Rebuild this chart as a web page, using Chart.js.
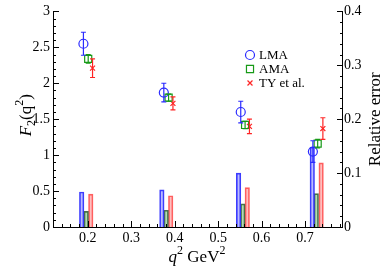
<!DOCTYPE html>
<html>
<head>
<meta charset="utf-8">
<script src="https://cdn.jsdelivr.net/npm/chart.js@4.4.1/dist/chart.umd.min.js"></script>
<style>
  html, body { margin: 0; padding: 0; background: #fff; }
  #wrap { width: 382px; height: 269px; }
</style>
</head>
<body>
<div id="wrap"><canvas id="f2-chart"></canvas></div>
<script>
// q^2 positions of the markers (GeV^2)
const q2LMA = [0.190, 0.375, 0.552, 0.718];
const q2AMA = [0.201, 0.386, 0.562, 0.729];
const q2TY = [0.211, 0.396, 0.572, 0.741];

// F2(q^2) values and errors
const f2LMA = [2.55, 1.87, 1.60, 1.05];
const errLMA = [0.16, 0.13, 0.15, 0.15];
const f2AMA = [2.34, 1.80, 1.42, 1.16];
const errAMA = [0.06, 0.05, 0.05, 0.06];
const f2TY = [2.21, 1.72, 1.40, 1.37];
const errTY = [0.13, 0.09, 0.10, 0.15];

// relative error bars (right axis) and their positions
const barQ2LMA = [0.186, 0.3705, 0.547, 0.7166];
const barQ2AMA = [0.1965, 0.3805, 0.5567, 0.7258];
const barQ2TY = [0.2069, 0.3908, 0.567, 0.737];
const relLMA = [0.065, 0.069, 0.100, 0.148];
const relAMA = [0.029, 0.031, 0.043, 0.062];
const relTY = [0.061, 0.058, 0.073, 0.119];

// tick labels
const xTicks = [0.2, 0.3, 0.4, 0.5, 0.6, 0.7];
const seriesNames = ['LMA', 'AMA', 'TY et al.'];

const colors = {
    lma: '#2b2bff',
    ama: '#179a17',
    ty: '#ff2424',
};

const serif = "'Liberation Serif', serif";
Chart.defaults.font.family = serif;
const toXY = (xs, ys) => xs.map((x, i) => ({ x, y: ys[i] }));
const fmt = (v) => String(+Number(v).toFixed(2));

const errorSets = [
    { xs: q2LMA, ys: f2LMA, errs: errLMA, color: colors.lma },
    { xs: q2AMA, ys: f2AMA, errs: errAMA, color: colors.ama },
    { xs: q2TY, ys: f2TY, errs: errTY, color: colors.ty },
];

const markerStyles = [
    { pointStyle: 'circle', radius: 4.5, color: colors.lma },
    { pointStyle: 'rect', radius: 5, color: colors.ama },
    { pointStyle: 'crossRot', radius: 3.5, color: colors.ty },
];

const barDataset = (xs, ys, fill, border) => ({
    type: 'bar',
    data: toXY(xs, ys),
    yAxisID: 'y2',
    backgroundColor: fill,
    borderColor: border,
    borderWidth: 1,
    barThickness: 4.5,
    grouped: false,
    order: 3,
});

const pointDataset = (xs, ys, style) => ({
    type: 'scatter',
    data: toXY(xs, ys),
    yAxisID: 'y',
    pointStyle: style.pointStyle,
    pointRadius: style.radius,
    pointBorderColor: style.color,
    pointBackgroundColor: 'rgba(0,0,0,0)',
    pointBorderWidth: 1.2,
    showLine: false,
    order: 1,
});

// draw frame, inside ticks, error bars, legend and axis titles
const decorations = {
    id: 'decorations',
    afterDatasetsDraw(chart) {
        const { ctx, scales } = chart;
        const x = scales.x, y = scales.y;
        ctx.save();

        // error bars
        errorSets.forEach((set) => {
            ctx.strokeStyle = set.color;
            ctx.lineWidth = 1.2;
            set.xs.forEach((q, i) => {
                const px = x.getPixelForValue(q);
                const top = y.getPixelForValue(set.ys[i] + set.errs[i]);
                const bot = y.getPixelForValue(set.ys[i] - set.errs[i]);
                ctx.beginPath();
                ctx.moveTo(px, top); ctx.lineTo(px, bot);
                ctx.moveTo(px - 2.5, top); ctx.lineTo(px + 2.5, top);
                ctx.moveTo(px - 2.5, bot); ctx.lineTo(px + 2.5, bot);
                ctx.stroke();
            });
        });
        ctx.restore();
    },
    afterDraw(chart) {
        const { ctx, chartArea: area, scales } = chart;
        const x = scales.x, y = scales.y, y2 = scales.y2;
        ctx.save();
        ctx.strokeStyle = '#000';
        ctx.lineWidth = 1;

        // axis lines
        ctx.beginPath();
        ctx.moveTo(area.left + 0.5, area.top);
        ctx.lineTo(area.left + 0.5, area.bottom + 0.5);
        ctx.lineTo(area.right + 0.5, area.bottom + 0.5);
        ctx.lineTo(area.right + 0.5, area.top);
        ctx.stroke();

        // ticks pointing inside
        ctx.beginPath();
        for (let k = 0; k <= 30; k++) {
            const py = Math.round(y.getPixelForValue(k / 10)) + 0.5;
            const len = k % 5 === 0 ? 6 : 3;
            ctx.moveTo(area.left, py); ctx.lineTo(area.left + len, py);
        }
        for (let k = 0; k <= 20; k++) {
            const py = Math.round(y2.getPixelForValue(k * 0.02)) + 0.5;
            const len = k % 5 === 0 ? 6 : 3;
            ctx.moveTo(area.right + 1, py); ctx.lineTo(area.right + 1 - len, py);
        }
        for (let k = 7; k <= 39; k++) {
            const v = k * 0.02;
            const px = Math.round(x.getPixelForValue(v)) + 0.5;
            if (px < area.left || px > area.right) continue;
            const len = k % 5 === 0 ? 6 : 3;
            ctx.moveTo(px, area.bottom); ctx.lineTo(px, area.bottom - len);
        }
        ctx.stroke();

        // legend
        ctx.font = '13px ' + serif;
        ctx.textBaseline = 'middle';
        ctx.textAlign = 'left';
        seriesNames.forEach((name, i) => {
            const ly = 55 + i * 14;
            const st = markerStyles[i];
            ctx.strokeStyle = st.color;
            ctx.fillStyle = 'rgba(0,0,0,0)';
            ctx.lineWidth = 1.2;
            Chart.helpers.drawPoint(ctx, {
                pointStyle: st.pointStyle, radius: st.radius, rotation: 0, borderWidth: 1.2,
            }, 250, ly);
            ctx.fillStyle = '#000';
            ctx.fillText(name, 259, ly + 1);
        });

        // bottom title: q^2 GeV^2
        const big = 17, small = 12;
        const drawParts = (list, cx, baseline) => {
            let total = 0;
            list.forEach((p) => { ctx.font = p.f; p.w = ctx.measureText(p.t).width; total += p.w; });
            let cur = cx - total / 2;
            ctx.textAlign = 'left';
            ctx.textBaseline = 'alphabetic';
            ctx.fillStyle = '#000';
            list.forEach((p) => { ctx.font = p.f; ctx.fillText(p.t, cur, baseline + p.dy); cur += p.w; });
        };
        drawParts([
            { t: 'q', f: 'italic ' + big + 'px ' + serif, dy: 0 },
            { t: '2', f: small + 'px ' + serif, dy: -8 },
            { t: ' GeV', f: big + 'px ' + serif, dy: 0 },
            { t: '2', f: small + 'px ' + serif, dy: -8 },
        ], 197, 262);

        // left title: F_2(q^2)
        ctx.save();
        ctx.translate(25, (area.top + area.bottom) / 2 - 4);
        ctx.rotate(-Math.PI / 2);
        drawParts([
            { t: 'F', f: 'italic ' + big + 'px ' + serif, dy: 0 },
            { t: '2', f: small + 'px ' + serif, dy: 4 },
            { t: '(q', f: big + 'px ' + serif, dy: 0 },
            { t: '2', f: small + 'px ' + serif, dy: -8 },
            { t: ')', f: big + 'px ' + serif, dy: 0 },
        ], 0, 6);
        ctx.restore();

        // right title
        ctx.save();
        ctx.translate(376, (area.top + area.bottom) / 2);
        ctx.rotate(-Math.PI / 2);
        ctx.font = big + 'px ' + serif;
        ctx.textAlign = 'center';
        ctx.textBaseline = 'middle';
        ctx.fillText('Relative error', 0, 0);
        ctx.restore();

        ctx.restore();
    },
};

const tickFont = { family: serif, size: 14 };

new Chart(document.getElementById('f2-chart'), {
    type: 'scatter',
    data: {
        datasets: [
            barDataset(barQ2LMA, relLMA, 'rgba(60,60,255,0.35)', 'rgba(40,40,255,0.9)'),
            barDataset(barQ2AMA, relAMA, 'rgba(40,150,40,0.35)', 'rgba(60,90,60,0.9)'),
            barDataset(barQ2TY, relTY, 'rgba(255,70,70,0.35)', 'rgba(255,60,60,0.8)'),
            pointDataset(q2LMA, f2LMA, markerStyles[0]),
            pointDataset(q2AMA, f2AMA, markerStyles[1]),
            pointDataset(q2TY, f2TY, markerStyles[2]),
        ],
    },
    options: {
        responsive: true,
        maintainAspectRatio: false,
        animation: false,
        layout: { padding: { top: 7, left: 0, right: 0, bottom: 0 } },
        plugins: {
            legend: { display: false },
            tooltip: { enabled: false },
        },
        scales: {
            x: {
                type: 'linear',
                min: 0.12,
                max: 0.785,
                offset: false,
                grid: { display: false, drawTicks: false },
                border: { display: false },
                afterBuildTicks: (scale) => { scale.ticks = xTicks.map((v) => ({ value: v })); },
                afterFit: (scale) => { scale.height = 42; },
                ticks: { font: tickFont, color: '#000', padding: 3, maxRotation: 0, callback: fmt },
            },
            y: {
                position: 'left',
                min: 0,
                max: 3,
                grid: { display: false, drawTicks: false },
                border: { display: false },
                afterFit: (scale) => { scale.width = 53; },
                ticks: { stepSize: 0.5, font: tickFont, color: '#000', padding: 3, callback: fmt },
            },
            y2: {
                position: 'right',
                min: 0,
                max: 0.4,
                grid: { display: false, drawTicks: false },
                border: { display: false },
                afterFit: (scale) => { scale.width = 40; },
                ticks: { stepSize: 0.1, font: tickFont, color: '#000', padding: 2, callback: fmt },
            },
        },
    },
    plugins: [decorations],
});
</script>
</body>
</html>
